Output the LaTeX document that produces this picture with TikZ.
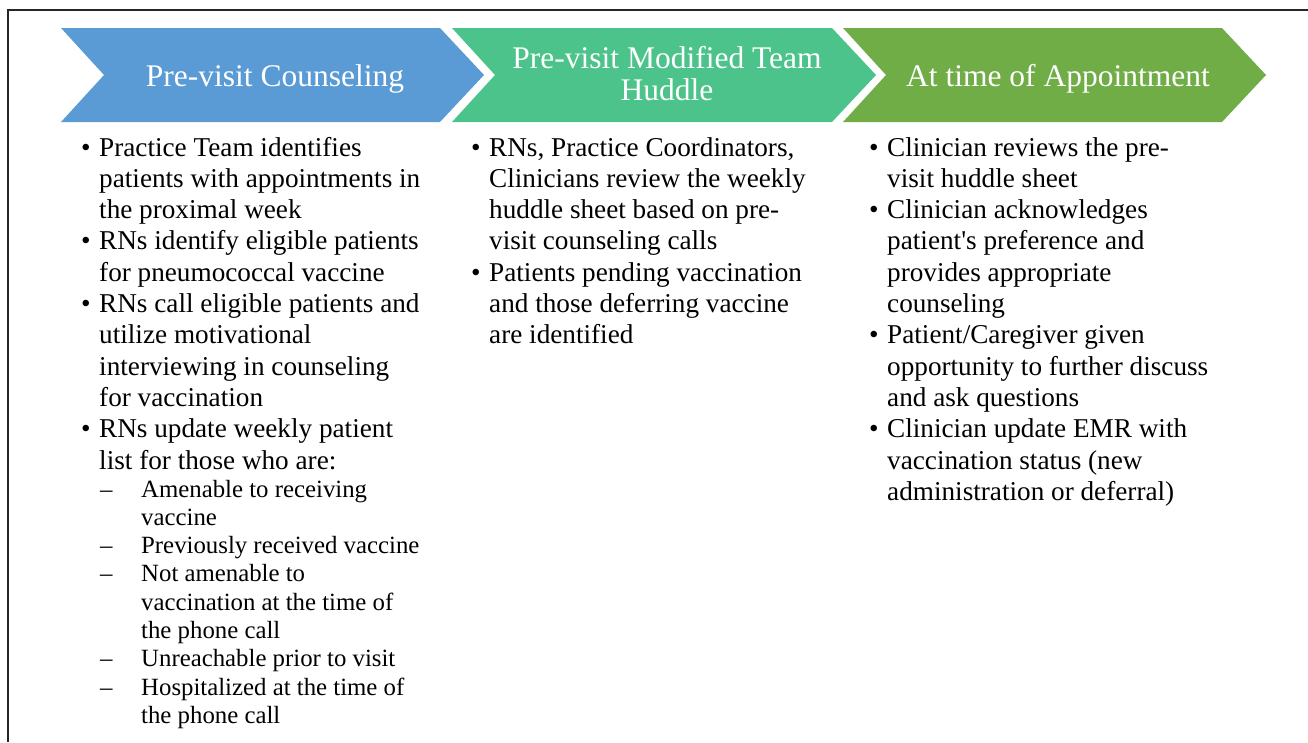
\documentclass[tikz,border=0pt]{standalone}
\usepackage{fontspec}
\setmainfont{Liberation Serif}
\definecolor{cblue}{HTML}{5B9BD5}
\definecolor{cteal}{HTML}{4CC38A}
\definecolor{cgreen}{HTML}{70AD47}
\begin{document}
\begin{tikzpicture}[x=1pt,y=-1pt,
  title/.style={text=white,font=\fontsize{31.5}{32}\selectfont,inner sep=0pt,anchor=base},
  bodytxt/.style={font=\fontsize{27.2}{31.3}\selectfont,inner sep=0pt,anchor=base west},
  subtxt/.style={font=\fontsize{24.8}{28.3}\selectfont,inner sep=0pt,anchor=base west},
  frameline/.style={line width=1.6pt,black!85}]
\useasboundingbox (0,0) rectangle (1308,742);
\draw[frameline] (8,742) -- (8,10) -- (1308,10);
% chevrons
\fill[cblue]  (61,28) -- (440,28) -- (484,75) -- (440,122) -- (61,122) -- (104,75) -- cycle;
\fill[cteal]  (452,28) -- (832,28) -- (876,75) -- (832,122) -- (452,122) -- (495,75) -- cycle;
\fill[cgreen] (843,28) -- (1222,28) -- (1266,75) -- (1222,122) -- (843,122) -- (886,75) -- cycle;
\node[title] (t1) at (275,86) {Pre-visit Counseling};
\node[title] (t2a) at (667,68) {Pre-visit Modified Team};
\node[title] (t2b) at (667,100) {Huddle};
\node[title] (t3) at (1058,86) {At time of Appointment};
% column 1
\foreach \t [count=\i] in {Practice Team identifies,patients with appointments in,the proximal week,RNs identify eligible patients,for pneumococcal vaccine,RNs call eligible patients and,utilize motivational,interviewing in counseling,for vaccination,RNs update weekly patient,list for those who are:}
  \node[bodytxt] (a\i) at (99,{156+31.3*(\i-1)}) {\t};
\foreach \i in {1,4,6,10}
  \node[bodytxt] (ab\i) at (81,{156+31.3*(\i-1)}) {•};
\foreach \t [count=\i] in {Amenable to receiving,vaccine,Previously received vaccine,Not amenable to,vaccination at the time of,the phone call,Unreachable prior to visit,Hospitalized at the time of,the phone call}
  \node[subtxt] (s\i) at (141,{497+28.3*(\i-1)}) {\t};
\foreach \i in {1,3,4,7,8}
  \node[subtxt] (sd\i) at (100,{497+28.3*(\i-1)}) {–};
% column 2
\foreach \t [count=\i] in {{RNs, Practice Coordinators,},Clinicians review the weekly,huddle sheet based on pre-,visit counseling calls,Patients pending vaccination,and those deferring vaccine,are identified}
  \node[bodytxt] (b\i) at (489,{156+31.3*(\i-1)}) {\t};
\foreach \i in {1,5}
  \node[bodytxt] (bb\i) at (471,{156+31.3*(\i-1)}) {•};
% column 3
\foreach \t [count=\i] in {Clinician reviews the pre-,visit huddle sheet,Clinician acknowledges,patient\textquotesingle s preference and,provides appropriate,counseling,Patient/Caregiver given,opportunity to further discuss,and ask questions,Clinician update EMR with,vaccination status (new,administration or deferral)}
  \node[bodytxt] (c\i) at (887,{156+31.3*(\i-1)}) {\t};
\foreach \i in {1,3,7,10}
  \node[bodytxt] (cb\i) at (869,{156+31.3*(\i-1)}) {•};
\end{tikzpicture}
\end{document}
